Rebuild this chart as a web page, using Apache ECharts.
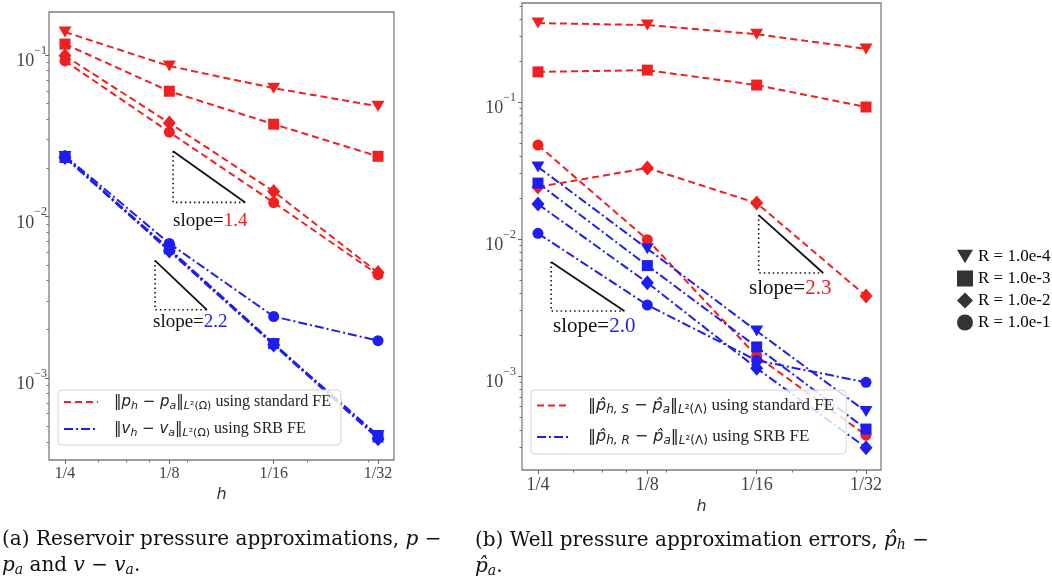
<!DOCTYPE html>
<html><head><meta charset="utf-8">
<script src="https://cdn.jsdelivr.net/npm/echarts@6/dist/echarts.min.js"></script>
<style>html,body{margin:0;padding:0;background:#fff}#c{width:1052px;height:586px}</style>
</head><body><div id="c"></div>
<script>
// ---------- data ----------
const hValues = [1/4, 1/8, 1/16, 1/32];
const hLabels = ['1/4', '1/8', '1/16', '1/32'];
const hMinor = [1/5, 1/6, 1/7, 1/9, 1/20, 1/30];
const yMajor = [1e-3, 1e-2, 1e-1];
const rLabels = ['R = 1.0e-4', 'R = 1.0e-3', 'R = 1.0e-2', 'R = 1.0e-1'];

// (a) reservoir pressure, standard FE (red) and SRB FE (blue)
const resStdR4 = [0.139, 0.0855, 0.0624, 0.0482];
const resStdR3 = [0.117, 0.0597, 0.0373, 0.0236];
const resStdR2 = [0.099, 0.038, 0.0143, 0.00449];
const resStdR1 = [0.092, 0.0333, 0.0122, 0.00436];
const resSrbR4 = [0.0235, 0.0062, 0.00162, 0.00044];
const resSrbR3 = [0.0232, 0.0063, 0.00163, 0.00043];
const resSrbR2 = [0.0232, 0.0061, 0.0016, 0.00042];
const resSrbR1 = [0.0238, 0.0068, 0.0024, 0.0017];

// (b) well pressure, standard FE (red) and SRB FE (blue)
const wellStdR4 = [0.377, 0.365, 0.313, 0.244];
const wellStdR3 = [0.166, 0.171, 0.133, 0.092];
const wellStdR2 = [0.024, 0.033, 0.0183, 0.00384];
const wellStdR1 = [0.0485, 0.0099, 0.0014, 0.00037];
const wellSrbR4 = [0.0336, 0.0085, 0.00213, 0.00055];
const wellSrbR3 = [0.0256, 0.0064, 0.00163, 0.00041];
const wellSrbR2 = [0.018, 0.0048, 0.00114, 0.0003];
const wellSrbR1 = [0.011, 0.0033, 0.0013, 0.0009];

// slope guide triangles (data space: h0 -> h1, top -> bottom value)
const slopeH0 = [0.1219, 0.1374, 0.0617, 0.2300];
const slopeH1 = [0.0755, 0.0974, 0.0410, 0.1446];
const slopeTop = [0.02536, 0.00533, 0.01496, 0.00679];
const slopeBot = [0.01222, 0.00264, 0.00565, 0.00298];
const slopePlot = [0, 0, 1, 1];
const slopeText = ['1.4', '2.2', '2.3', '2.0'];

// ---------- styles ----------
const RED = '#ee2020';
const BLUE = '#1e1ef0';
const DASH = [7, 4];
const DASHDOT = [9, 3, 2, 3];
const SYM = [
  {symbol: 'triangle', size: [13, 11], rot: 180},
  {symbol: 'rect', size: 11, rot: 0},
  {symbol: 'diamond', size: [13, 15], rot: 0},
  {symbol: 'circle', size: 11, rot: 0}
];

function mk(name, vals, g, color, dash, k) {
  return {
    type: 'line', name: name, xAxisIndex: g * 2, yAxisIndex: g * 2,
    data: hValues.map((h, i) => [h, vals[i]]),
    symbol: SYM[k].symbol, symbolSize: SYM[k].size, symbolRotate: SYM[k].rot,
    showSymbol: true,
    lineStyle: {color: color, width: 2, type: dash},
    itemStyle: {color: color},
    z: 3
  };
}

const series = [];
[resStdR4, resStdR3, resStdR2, resStdR1].forEach((v, k) => series.push(mk('a_std_' + k, v, 0, RED, DASH, k)));
[resSrbR4, resSrbR3, resSrbR2, resSrbR1].forEach((v, k) => series.push(mk('a_srb_' + k, v, 0, BLUE, DASHDOT, k)));
[wellStdR4, wellStdR3, wellStdR2, wellStdR1].forEach((v, k) => series.push(mk('b_std_' + k, v, 1, RED, DASH, k)));
[wellSrbR4, wellSrbR3, wellSrbR2, wellSrbR1].forEach((v, k) => series.push(mk('b_srb_' + k, v, 1, BLUE, DASHDOT, k)));

// slope guides
slopeH0.forEach((h0, i) => {
  const g = slopePlot[i];
  series.push({
    type: 'line', xAxisIndex: g * 2, yAxisIndex: g * 2, symbol: 'none', silent: true, z: 2,
    data: [[h0, slopeTop[i]], [h0, slopeBot[i]], [slopeH1[i], slopeBot[i]]],
    lineStyle: {color: '#111', width: 1.6, type: [1.5, 3]}
  });
  series.push({
    type: 'line', xAxisIndex: g * 2, yAxisIndex: g * 2, symbol: 'none', silent: true, z: 2,
    data: [[h0, slopeTop[i]], [slopeH1[i], slopeBot[i]]],
    lineStyle: {color: '#111', width: 1.8, type: 'solid'}
  });
});

// legend-only series
const legendLines = [
  {name: 'aStd', color: RED, dash: DASH},
  {name: 'aSrb', color: BLUE, dash: DASHDOT},
  {name: 'bStd', color: RED, dash: DASH},
  {name: 'bSrb', color: BLUE, dash: DASHDOT}
];
legendLines.forEach(l => series.push({
  type: 'line', name: l.name, data: [], symbol: 'none', xAxisIndex: 0, yAxisIndex: 0,
  lineStyle: {color: l.color, width: 2, type: l.dash}, itemStyle: {color: l.color}
}));
rLabels.forEach((n, k) => series.push({
  type: 'scatter', name: n, data: [], xAxisIndex: 0, yAxisIndex: 0,
  symbol: SYM[k].symbol, itemStyle: {color: '#000'}
}));

// ---------- axes ----------
const yMinor = [];
for (let n = -5; n <= 0; n++) for (let k = 2; k <= 9; k++) yMinor.push(k * Math.pow(10, n));

function xAxes(g, lo, hi, labelSize, gap) {
  const common = {gridIndex: g, type: 'log', logBase: 2, inverse: true, min: lo, max: hi, position: 'bottom',
    axisLine: {show: false}, splitLine: {show: false}};
  return [
    Object.assign({}, common, {
      axisTick: {show: true, customValues: hValues, length: 4, lineStyle: {color: '#666', width: 1}},
      axisLabel: {customValues: hValues, margin: 6,
        formatter: v => { const i = hValues.findIndex(h => Math.abs(h - v) / h < 1e-6); return i >= 0 ? hLabels[i] : ''; },
        fontFamily: 'Liberation Serif', fontSize: labelSize, color: '#444'},
      name: 'h', nameLocation: 'middle', nameGap: gap,
      nameTextStyle: {fontFamily: 'DejaVu Sans', fontStyle: 'italic', fontSize: 16, color: '#333'}
    }),
    Object.assign({}, common, {
      axisTick: {show: true, customValues: hMinor, length: 2.5, lineStyle: {color: '#777', width: 1}},
      axisLabel: {show: false}
    })
  ];
}
function yAxes(g, lo, hi, margin) {
  const common = {gridIndex: g, type: 'log', logBase: 10, min: lo, max: hi, position: 'left',
    axisLine: {show: false}, splitLine: {show: false}};
  return [
    Object.assign({}, common, {
      axisTick: {show: true, customValues: yMajor, length: 4, lineStyle: {color: '#666', width: 1}},
      axisLabel: {customValues: yMajor, margin: margin, color: '#444', fontFamily: 'Liberation Serif', fontSize: 18,
        formatter: v => '{b|10}{s|\u2212' + (-Math.round(Math.log10(v))) + '}',
        rich: {
          b: {fontFamily: 'Liberation Serif', fontSize: 18, lineHeight: 18, padding: [13, 0, 0, 0], color: '#444'},
          s: {fontFamily: 'Liberation Serif', fontSize: 12, lineHeight: 12, padding: [5, 0, 14, 0], color: '#444'}
        }}
    }),
    Object.assign({}, common, {
      axisTick: {show: true, customValues: yMinor.filter(v => v > lo && v < hi), length: 2.5, lineStyle: {color: '#777', width: 1}},
      axisLabel: {show: false}
    })
  ];
}

const lp = 0.153, rpL = 0.146, rpR = 0.137;
const xAxis = [].concat(
  xAxes(0, (1/32) / Math.pow(2, lp), 0.25 * Math.pow(2, lp), 16, 27),
  xAxes(1, (1/32) / Math.pow(2, rpR), 0.25 * Math.pow(2, rpL), 18, 28)
);
const yAxis = [].concat(
  yAxes(0, Math.pow(10, -3.509), Math.pow(10, -0.733), 2),
  yAxes(1, Math.pow(10, -3.686), Math.pow(10, -0.277), 6)
);

// ---------- legends ----------
const mathRich = (fs, ts) => ({
  m: {fontFamily: 'DejaVu Sans', fontSize: fs, lineHeight: 20, color: '#222'},
  mi: {fontFamily: 'DejaVu Sans', fontStyle: 'italic', fontSize: fs, lineHeight: 20, color: '#222'},
  sub: {fontFamily: 'DejaVu Sans', fontStyle: 'italic', fontSize: fs - 4, lineHeight: 12, verticalAlign: 'bottom', color: '#222'},
  subr: {fontFamily: 'DejaVu Sans', fontSize: fs - 4, lineHeight: 12, verticalAlign: 'bottom', color: '#222'},
  t: {fontFamily: 'Liberation Serif', fontSize: ts, lineHeight: 20, color: '#222'}
});
const legendText = {
  aStd: '{m|\u2016}{mi|p}{sub|h}{m| \u2212 }{mi|p}{sub|a}{m|\u2016}{sub|L}{subr|\u00b2(\u03a9)}{t| using standard FE}',
  aSrb: '{m|\u2016}{mi|v}{sub|h}{m| \u2212 }{mi|v}{sub|a}{m|\u2016}{sub|L}{subr|\u00b2(\u03a9)}{t| using SRB FE}',
  bStd: '{m|\u2016}{mi|p\u0302}{sub|h, S}{m| \u2212 }{mi|p\u0302}{sub|a}{m|\u2016}{sub|L}{subr|\u00b2(\u039b)}{t| using standard FE}',
  bSrb: '{m|\u2016}{mi|p\u0302}{sub|h, R}{m| \u2212 }{mi|p\u0302}{sub|a}{m|\u2016}{sub|L}{subr|\u00b2(\u039b)}{t| using SRB FE}'
};
const legendBox = {backgroundColor: 'rgba(255,255,255,0.82)', borderColor: '#d4d4d4', borderWidth: 1, borderRadius: 4,
  selectedMode: false, orient: 'vertical', itemStyle: {opacity: 0, color: 'transparent', borderWidth: 0}};
const downTri = 'path://M0,0L20,0L10,17Z';
const legend = [
  Object.assign({}, legendBox, {
    data: ['aStd', 'aSrb'], left: 58, top: 390, itemWidth: 34, itemHeight: 12, itemGap: 9,
    padding: [4, 10, 6, 5], formatter: n => legendText[n],
    textStyle: {padding: [0, 0, 0, 11], rich: mathRich(15, 16)}
  }),
  Object.assign({}, legendBox, {
    data: ['bStd', 'bSrb'], left: 531, top: 390, itemWidth: 32, itemHeight: 12, itemGap: 13,
    padding: [7, 12, 7, 5], formatter: n => legendText[n],
    textStyle: {padding: [0, 0, 0, 14], rich: mathRich(16, 17)}
  }),
  {data: [{name: rLabels[0], icon: downTri}, rLabels[1], rLabels[2], rLabels[3]],
    left: 957, top: 247, orient: 'vertical', itemWidth: 16, itemHeight: 16, itemGap: 3,
    selectedMode: false, padding: 0,
    textStyle: {fontFamily: 'Liberation Serif', fontSize: 17, color: '#000', lineHeight: 19}}
];

// ---------- texts ----------
const capRich = {
  t: {fontFamily: 'DejaVu Serif', fontSize: 20, fill: '#111'},
  i: {fontFamily: 'DejaVu Serif', fontStyle: 'italic', fontSize: 20, fill: '#111'},
  sub: {fontFamily: 'DejaVu Serif', fontStyle: 'italic', fontSize: 14, fill: '#111', verticalAlign: 'bottom', lineHeight: 16}
};
const slopeRich = (fs, col) => ({
  k: {fontFamily: 'Liberation Serif', fontSize: fs, fill: '#111'},
  v: {fontFamily: 'Liberation Serif', fontSize: fs, fill: col}
});
const slopeColors = [RED, BLUE, RED, BLUE];
const slopePos = [[173, 221, 19], [153, 322, 19], [749, 288, 21], [553, 326, 21]];
const captions = [
  [2, 540, '{t|(a) Reservoir pressure approximations, }{i|p}{t| \u2212}'],
  [2, 566, '{i|p}{sub|a}{t| and }{i|v}{t| \u2212 }{i|v}{sub|a}{t|.}'],
  [475, 541, '{t|(b) Well pressure approximation errors, }{i|p\u0302}{sub|h}{t| \u2212}'],
  [475, 567, '{i|p\u0302}{sub|a}{t|.}']
];
const graphic = captions.map(c => ({type: 'text', x: c[0], y: c[1],
  style: {rich: capRich, text: c[2], verticalAlign: 'middle', lineHeight: 22}}));
slopeText.forEach((s, i) => {
  const p = slopePos[i];
  graphic.push({type: 'text', x: p[0], y: p[1], style: {text: '{k|slope=}{v|' + s + '}', rich: slopeRich(p[2], slopeColors[i]), verticalAlign: 'middle'}});
});

const option = {
  animation: false,
  backgroundColor: '#fff',
  grid: [
    {left: 49, top: 12, width: 345, height: 448, show: true, borderColor: '#7d7d7d', borderWidth: 1.3, backgroundColor: 'transparent'},
    {left: 522, top: 3, width: 359, height: 467, show: true, borderColor: '#7d7d7d', borderWidth: 1.3, backgroundColor: 'transparent'}
  ],
  xAxis: xAxis,
  yAxis: yAxis,
  legend: legend,
  series: series,
  graphic: graphic
};
const chart = echarts.init(document.getElementById('c'));
chart.setOption(option);
</script></body></html>
